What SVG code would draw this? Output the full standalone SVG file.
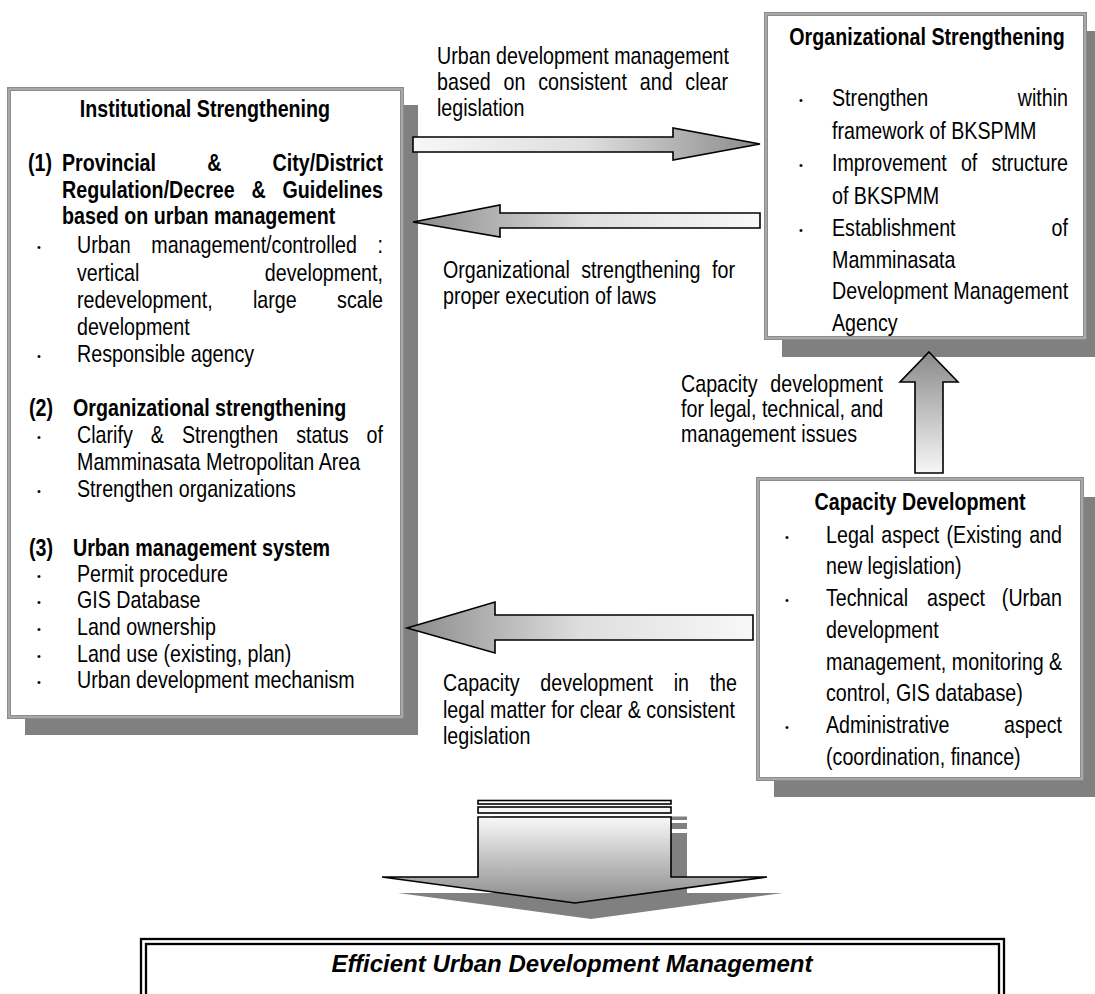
<svg xmlns="http://www.w3.org/2000/svg" width="1095" height="994" viewBox="0 0 1095 994">
  <style>
    .shadow { fill: #808080; }
    .box { fill: #ffffff; stroke: #8c8c8c; stroke-width: 4; }
    .inner { fill: none; stroke: #c4c4c4; stroke-width: 1; }
    .t { font-family: "Liberation Sans", Arial, sans-serif; font-size: 24px; fill: #000; }
    .b { font-weight: bold; }
    .dot { font-family: "Liberation Sans", Arial, sans-serif; font-size: 11px; fill: #000; }
    .arrow { stroke: #000; stroke-width: 1.6; stroke-linejoin: miter; }
    .goal { font-family: "Liberation Sans", Arial, sans-serif; font-size: 24px; font-weight: bold; font-style: italic; fill: #000; }
    .frame { fill: none; stroke: #000; stroke-width: 2.3; }
  </style>
  <defs>
    <linearGradient id="gRight" x1="0" y1="0" x2="1" y2="0">
      <stop offset="0" stop-color="#f7f7f7"/>
      <stop offset="0.5" stop-color="#dedede"/>
      <stop offset="1" stop-color="#8a8a8a"/>
    </linearGradient>
    <linearGradient id="gLeft" x1="0" y1="0" x2="1" y2="0">
      <stop offset="0" stop-color="#8a8a8a"/>
      <stop offset="0.5" stop-color="#dedede"/>
      <stop offset="1" stop-color="#f8f8f8"/>
    </linearGradient>
    <linearGradient id="gUp" x1="0" y1="0" x2="0" y2="1">
      <stop offset="0" stop-color="#8a8a8a"/>
      <stop offset="1" stop-color="#f7f7f7"/>
    </linearGradient>
    <linearGradient id="gDown" x1="0" y1="0" x2="0" y2="1">
      <stop offset="0" stop-color="#f8f8f8"/>
      <stop offset="1" stop-color="#8a8a8a"/>
    </linearGradient>
  </defs>

  <rect width="1095" height="994" fill="#ffffff"/>

  <!-- Institutional Strengthening (narrow text: x values are in the 0.82-scaled frame) -->
  <g id="institutional">
    <rect class="shadow" x="25" y="105" width="393" height="630"/>
    <rect class="box" x="9" y="89" width="393" height="628"/>
    <rect class="inner" x="9" y="89" width="393" height="628"/>
    <text class="dot" x="37" y="251">•</text>
    <text class="dot" x="37" y="360">•</text>
    <text class="dot" x="37" y="441">•</text>
    <text class="dot" x="37" y="495">•</text>
    <text class="dot" x="37" y="580">•</text>
    <text class="dot" x="37" y="606">•</text>
    <text class="dot" x="37" y="633">•</text>
    <text class="dot" x="37" y="660">•</text>
    <text class="dot" x="37" y="686">•</text>
    <g transform="scale(0.82,1)">
      <text class="t b" x="250" y="117" text-anchor="middle">Institutional Strengthening</text>
      <text class="t b" y="171"><tspan x="34.15">(1)</tspan><tspan x="75.61">Provincial</tspan><tspan x="252.68">&amp;</tspan><tspan x="467.07" text-anchor="end">City/District</tspan></text>
      <text class="t b" y="198"><tspan x="75.61">Regulation/Decree</tspan><tspan x="306.71">&amp;</tspan><tspan x="467.07" text-anchor="end">Guidelines</tspan></text>
      <text class="t b" x="75.61" y="224">based on urban management</text>
      <text class="t" y="253"><tspan x="93.9">Urban</tspan><tspan x="184.51">management/controlled</tspan><tspan x="467.07" text-anchor="end">:</tspan></text>
      <text class="t" y="281"><tspan x="93.9">vertical</tspan><tspan x="467.07" text-anchor="end">development,</tspan></text>
      <text class="t" y="308"><tspan x="93.9">redevelopment,</tspan><tspan x="308.54">large</tspan><tspan x="467.07" text-anchor="end">scale</tspan></text>
      <text class="t" x="93.9" y="335">development</text>
      <text class="t" x="93.9" y="362">Responsible agency</text>

      <text class="t b" y="416"><tspan x="35.37">(2)</tspan><tspan x="89.02">Organizational strengthening</tspan></text>
      <text class="t" y="443"><tspan x="93.9">Clarify</tspan><tspan x="183.9">&amp;</tspan><tspan x="221.83">Strengthen</tspan><tspan x="361.22">status</tspan><tspan x="467.07" text-anchor="end">of</tspan></text>
      <text class="t" x="93.9" y="470">Mamminasata Metropolitan Area</text>
      <text class="t" x="93.9" y="497">Strengthen organizations</text>

      <text class="t b" y="556"><tspan x="35.37">(3)</tspan><tspan x="89.02">Urban management system</tspan></text>
      <text class="t" x="93.9" y="582">Permit procedure</text>
      <text class="t" x="93.9" y="608">GIS Database</text>
      <text class="t" x="93.9" y="635">Land ownership</text>
      <text class="t" x="93.9" y="662">Land use (existing, plan)</text>
      <text class="t" x="93.9" y="688">Urban development mechanism</text>
    </g>
  </g>

  <!-- Organizational Strengthening -->
  <g id="organizational">
    <rect class="shadow" x="782" y="31" width="319" height="326"/>
    <rect class="box" x="766" y="14" width="319" height="324"/>
    <rect class="inner" x="766" y="14" width="319" height="324"/>
    <text class="dot" x="799" y="104">•</text>
    <text class="dot" x="799" y="169">•</text>
    <text class="dot" x="799" y="234">•</text>
    <g transform="scale(0.82,1)">
      <text class="t b" x="1130.49" y="45" text-anchor="middle">Organizational Strengthening</text>
      <text class="t" y="106"><tspan x="1014.63">Strengthen</tspan><tspan x="1302.44" text-anchor="end">within</tspan></text>
      <text class="t" x="1014.63" y="139">framework of BKSPMM</text>
      <text class="t" y="171"><tspan x="1014.63">Improvement</tspan><tspan x="1171.83">of</tspan><tspan x="1302.44" text-anchor="end">structure</tspan></text>
      <text class="t" x="1014.63" y="204">of BKSPMM</text>
      <text class="t" y="236"><tspan x="1014.63">Establishment</tspan><tspan x="1302.44" text-anchor="end">of</tspan></text>
      <text class="t" x="1014.63" y="268">Mamminasata</text>
      <text class="t" x="1014.63" y="299">Development Management</text>
      <text class="t" x="1014.63" y="331">Agency</text>
    </g>
  </g>

  <!-- Capacity Development -->
  <g id="capacity">
    <rect class="shadow" x="774" y="497" width="324" height="300"/>
    <rect class="box" x="758" y="479" width="324" height="300"/>
    <rect class="inner" x="758" y="479" width="324" height="300"/>
    <text class="dot" x="785" y="541">•</text>
    <text class="dot" x="785" y="604">•</text>
    <text class="dot" x="785" y="731">•</text>
    <g transform="scale(0.82,1)">
      <text class="t b" x="1121.95" y="510" text-anchor="middle">Capacity Development</text>
      <text class="t" y="543"><tspan x="1007.32">Legal</tspan><tspan x="1074.76">aspect</tspan><tspan x="1154.27">(Existing</tspan><tspan x="1295.12" text-anchor="end">and</tspan></text>
      <text class="t" x="1007.32" y="574">new legislation)</text>
      <text class="t" y="606"><tspan x="1007.32">Technical</tspan><tspan x="1130.61">aspect</tspan><tspan x="1295.12" text-anchor="end">(Urban</tspan></text>
      <text class="t" x="1007.32" y="638">development</text>
      <text class="t" x="1007.32" y="670">management, monitoring &amp;</text>
      <text class="t" x="1007.32" y="701">control, GIS database)</text>
      <text class="t" y="733"><tspan x="1007.32">Administrative</tspan><tspan x="1295.12" text-anchor="end">aspect</tspan></text>
      <text class="t" x="1007.32" y="765">(coordination, finance)</text>
    </g>
  </g>

  <!-- Efficient Urban Development Management -->
  <g id="goal">
    <rect class="frame" x="141" y="939" width="863" height="80"/>
    <rect class="frame" x="146" y="944" width="853" height="80"/>
    <text class="goal" x="572" y="972" text-anchor="middle">Efficient Urban Development Management</text>
  </g>

  <!-- Connectors -->
  <g id="connectors">
    <polygon class="arrow" fill="url(#gRight)" points="413,137 673,137 673,128 760,144 673,160 673,152 413,152"/>
    <polygon class="arrow" fill="url(#gLeft)" points="413,222 500,205 500,213 760,213 760,228 500,228 500,237"/>
    <polygon class="arrow" fill="url(#gUp)" points="929,352 958,382 943,382 943,473 915,473 915,382 900,382"/>
    <polygon class="arrow" fill="url(#gLeft)" points="407,628 495,602 495,615 753,615 753,640 495,640 495,653"/>

    <!-- down arrow with its drop shadow -->
    <g class="shadow">
      <rect x="494" y="816.5" width="193" height="3.5"/>
      <rect x="494" y="823" width="193" height="6"/>
      <polygon points="494,833 687,833 687,893 783,893 591,919 398,893 494,893"/>
    </g>
    <rect class="arrow" fill="#ffffff" x="478" y="800.5" width="193" height="3.5"/>
    <rect class="arrow" fill="#f8f8f8" x="478" y="807" width="193" height="6"/>
    <polygon class="arrow" fill="url(#gDown)" points="478,817 671,817 671,877 767,877 575,903 382,877 478,877"/>

    <g transform="scale(0.82,1)">
      <text class="t" x="532.93" y="64">Urban development management</text>
      <text class="t" y="90"><tspan x="532.93">based</tspan><tspan x="614.02">on</tspan><tspan x="656.46">consistent</tspan><tspan x="780.24">and</tspan><tspan x="887.8" text-anchor="end">clear</tspan></text>
      <text class="t" x="532.93" y="116">legislation</text>

      <text class="t" y="278"><tspan x="540.24">Organizational</tspan><tspan x="708.78">strengthening</tspan><tspan x="896.34" text-anchor="end">for</tspan></text>
      <text class="t" x="540.24" y="304">proper execution of laws</text>

      <text class="t" y="392"><tspan x="830.49">Capacity</tspan><tspan x="1076.83" text-anchor="end">development</tspan></text>
      <text class="t" x="830.49" y="417">for legal, technical, and</text>
      <text class="t" x="830.49" y="442">management issues</text>

      <text class="t" y="691"><tspan x="540.24">Capacity</tspan><tspan x="658.9">development</tspan><tspan x="821.59">in</tspan><tspan x="898.78" text-anchor="end">the</tspan></text>
      <text class="t" x="540.24" y="718">legal matter for clear &amp; consistent</text>
      <text class="t" x="540.24" y="744">legislation</text>
    </g>
  </g>
</svg>
